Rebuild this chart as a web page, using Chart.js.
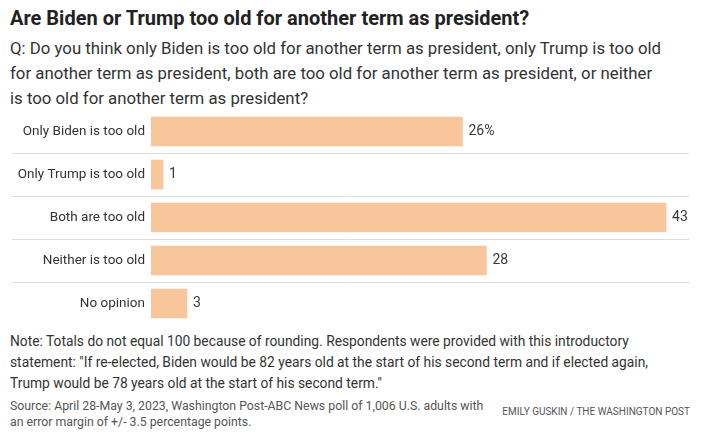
<!DOCTYPE html>
<html>
<head>
<meta charset="utf-8">
<script src="https://cdn.jsdelivr.net/npm/chart.js@4"></script>
<style>
  body { margin: 0; background: #fff; font-family: Roboto, "Liberation Sans", sans-serif; color: #333; }
  #page { position: relative; width: 701px; height: 437px; overflow: hidden; }
  .t { position: absolute; left: 10px; white-space: nowrap; }
  #title { top: 6px; font-size: 20px; font-weight: bold; color: #222; }
  #question { top: 36px; font-size: 16.8px; line-height: 25px; color: #333; }
  #chartBox { position: absolute; left: 0; top: 110px; width: 701px; height: 215px; }
  #note { top: 331px; font-size: 13.8px; line-height: 21px; color: #333; }
  #source { top: 398px; font-size: 12.3px; line-height: 16px; color: #555; }
  #credit { position: absolute; right: 11px; top: 406px; font-size: 10px; color: #555; white-space: nowrap; }
</style>
</head>
<body>
<div id="page">
  <div id="title" class="t">Are Biden or Trump too old for another term as president?</div>
  <div id="question" class="t">Q: Do you think only Biden is too old for another term as president, only Trump is too old<br>for another term as president, both are too old for another term as president, or neither<br>is too old for another term as president?</div>
  <div id="chartBox"><canvas id="chart"></canvas></div>
  <div id="note" class="t">Note: Totals do not equal 100 because of rounding. Respondents were provided with this introductory<br>statement: "If re-elected, Biden would be 82 years old at the start of his second term and if elected again,<br>Trump would be 78 years old at the start of his second term."</div>
  <div id="source" class="t">Source: April 28-May 3, 2023, Washington Post-ABC News poll of 1,006 U.S. adults with<br>an error margin of +/- 3.5 percentage points.</div>
  <div id="credit">EMILY GUSKIN / THE WASHINGTON POST</div>
</div>
<script>
const categories = ["Only Biden is too old", "Only Trump is too old", "Both are too old", "Neither is too old", "No opinion"];
const values = [26, 1, 43, 28, 3];
const valueLabels = ["26%", "1", "43", "28", "3"];

// separators between rows + value labels after each bar
const rowLines = {
  id: "rowLines",
  afterDatasetsDraw(chart) {
    const ctx = chart.ctx;
    const y = chart.scales.y;
    ctx.save();
    ctx.strokeStyle = "#dcdcdc";
    ctx.lineWidth = 1;
    for (let i = 0; i < categories.length - 1; i++) {
      const py = Math.round((y.getPixelForValue(i) + y.getPixelForValue(i + 1)) / 2) + 0.5;
      ctx.beginPath();
      ctx.moveTo(12, py);
      ctx.lineTo(689, py);
      ctx.stroke();
    }
    ctx.fillStyle = "#3a3a3a";
    ctx.font = "14px Roboto";
    ctx.textBaseline = "middle";
    chart.getDatasetMeta(0).data.forEach((bar, i) => {
      ctx.fillText(valueLabels[i], bar.x + 6, bar.y);
    });
    ctx.restore();
  }
};

new Chart(document.getElementById("chart"), {
  type: "bar",
  plugins: [rowLines],
  data: {
    labels: categories,
    datasets: [{
      data: values,
      backgroundColor: "#f9c59b",
      barThickness: 29,
    }],
  },
  options: {
    indexAxis: "y",
    responsive: true,
    maintainAspectRatio: false,
    animation: false,
    layout: { autoPadding: false, padding: { left: 0, right: 11, top: 0, bottom: 0 } },
    plugins: { legend: { display: false }, tooltip: { enabled: false } },
    scales: {
      x: {
        min: 0,
        max: 45,
        display: false,
      },
      y: {
        grid: { display: false, drawTicks: false },
        border: { display: false },
        ticks: { color: "#333", font: { family: "Roboto", size: 13.5 }, padding: 6 },
        afterFit: (scale) => {
          scale.width = 151;
          scale.paddingTop = 0;
          scale.paddingBottom = 0;
        },
      },
    },
  },
});
</script>
</body>
</html>
